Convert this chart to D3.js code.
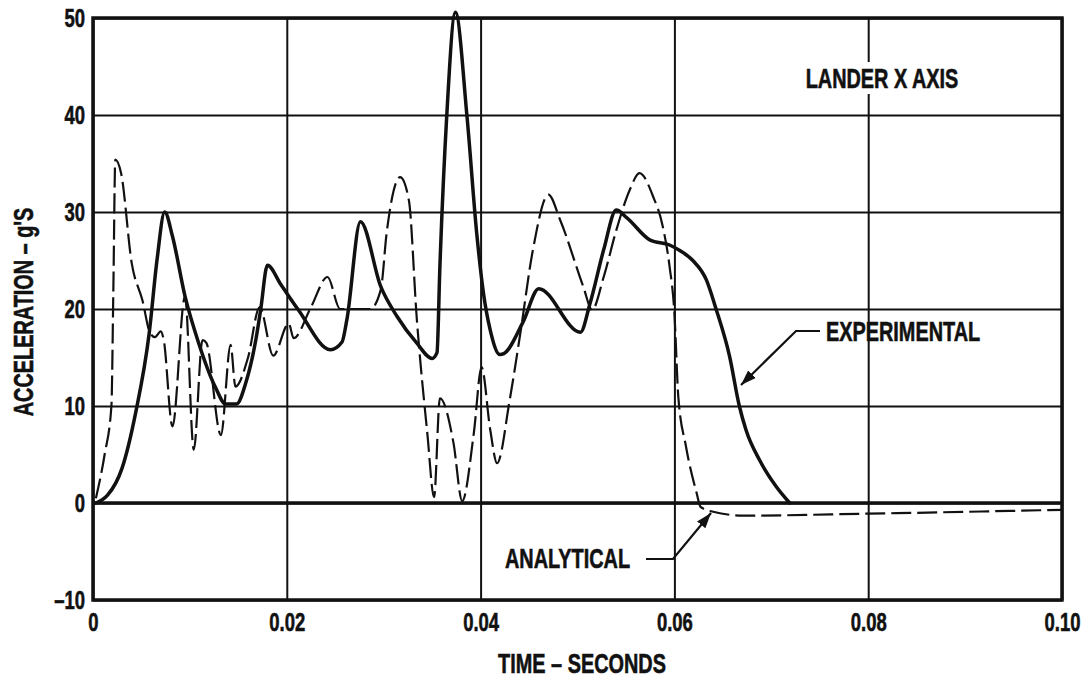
<!DOCTYPE html>
<html>
<head>
<meta charset="utf-8">
<script src="https://cdn.jsdelivr.net/npm/d3@7/dist/d3.min.js"></script>
<style>
  html, body { margin: 0; padding: 0; background: #fff; }
  svg { display: block; }
  .lbl { font-family: "Liberation Sans", Arial, "DejaVu Sans", sans-serif; font-weight: bold; fill: #111; stroke: #111; stroke-width: 0.6; }
</style>
</head>
<body>
<svg id="chart" width="1085" height="682"></svg>
<script>
// Lander X-axis acceleration: time (s) vs acceleration (g's)
const xTicks = [0, 0.02, 0.04, 0.06, 0.08, 0.10];
const xTickLabels = ["0", "0.02", "0.04", "0.06", "0.08", "0.10"];
const yTicks = [-10, 0, 10, 20, 30, 40, 50];
const yTickLabels = ["\u201310", "0", "10", "20", "30", "40", "50"];

// Experimental (solid) trace
const expTime = [0.0003, 0.0015, 0.0030, 0.0044, 0.0058, 0.0066, 0.0074, 0.0082, 0.0095, 0.0109,
  0.0126, 0.0137, 0.0148, 0.0158, 0.0168, 0.0173, 0.0180, 0.0194, 0.0212, 0.0245,
  0.0257, 0.0262, 0.0276, 0.0297, 0.0314, 0.0334, 0.0350, 0.0355, 0.0358, 0.0365,
  0.0374, 0.0386, 0.0396, 0.0403, 0.0410, 0.0420, 0.0424, 0.0444, 0.0460, 0.0503,
  0.0513, 0.0527, 0.0540, 0.0551, 0.0575, 0.0595, 0.0606, 0.0619, 0.0633, 0.0643,
  0.0657, 0.0667, 0.0674, 0.0688, 0.0705, 0.0719];
const expAccel = [0, 0.8, 3.6, 9.3, 17.5, 25, 30, 27.5, 21.3, 16.5,
  12, 10.2, 10.2, 12.5, 16.8, 19.9, 24.5, 22.5, 19.9, 15.8,
  16.6, 18.9, 29, 22.3, 19.2, 16.5, 14.9, 15.5, 24.4, 39.8,
  50.6, 39.8, 27.8, 21.6, 17.8, 15.3, 15.4, 18.7, 22.1, 17.6,
  20.6, 26.1, 30.2, 29.4, 27.1, 26.6, 26.0, 25, 23, 20,
  15.1, 10, 7.5, 4.4, 1.7, 0];

// Analytical (dashed) trace
const anaTime = [0.0003, 0.0012, 0.0019, 0.0021, 0.0023, 0.0029, 0.0040, 0.0051, 0.0059, 0.0064,
  0.0070, 0.0073, 0.0082, 0.0095, 0.0104, 0.0113, 0.0117, 0.0132, 0.0142, 0.0147,
  0.0160, 0.0172, 0.0186, 0.0202, 0.0207, 0.0225, 0.0242, 0.0255, 0.0286, 0.0297,
  0.0303, 0.0317, 0.0326, 0.0334, 0.0345, 0.0352, 0.0358, 0.0372, 0.0381, 0.0393,
  0.0401, 0.0410, 0.0417, 0.0430, 0.0441, 0.0454, 0.0470, 0.0482, 0.0506, 0.0515,
  0.0527, 0.0540, 0.0554, 0.0564, 0.0578, 0.0588, 0.0595, 0.0600, 0.0604, 0.0612,
  0.0623, 0.0627, 0.0640, 0.0671, 0.0800, 0.1000];
const anaAccel = [0.5, 5, 10, 22, 35.4, 34, 24.7, 20.9, 17.5, 17.1,
  17.7, 16.8, 7.9, 21.3, 5.5, 16.8, 16.5, 7, 16.3, 12,
  15, 20.2, 15.2, 18.5, 17, 20.2, 23.3, 20, 20, 22,
  27.8, 33.6, 31.2, 19.2, 7.2, 0.6, 10.8, 6.2, 0.2, 7.2,
  14, 7.5, 4.1, 10.6, 17.5, 26.1, 31.8, 29.2, 22.3, 19.9,
  23.3, 28.1, 32.3, 34, 31.6, 28.5, 24.4, 19.6, 11, 5.8,
  1, -0.4, -0.9, -1.3, -1.1, -0.7];

const svg = d3.select("#chart");
const W = 1085, H = 682;
svg.append("rect").attr("width", W).attr("height", H).attr("fill", "#fff");

// narrow lettering: scale each label horizontally about its anchor
const SQUEEZE = 0.71;
function condense(sel) {
  sel.each(function () {
    const t = d3.select(this);
    const x0 = +t.attr("x") || 0;
    const tr = t.attr("transform") || "";
    t.attr("x", x0 / SQUEEZE).attr("transform", (tr + ` scale(${SQUEEZE},1)`).trim());
  });
}

const x = d3.scaleLinear().domain([0, 0.10]).range([93, 1062]);
const y = d3.scaleLinear().domain([-10, 50]).range([600, 18]);

// grid via axes with full-length ticks
const gx = svg.append("g").attr("transform", `translate(0,${y(-10)})`)
  .call(d3.axisBottom(x).tickValues(xTicks).tickSize(-(y(-10) - y(50))).tickFormat((d, i) => xTickLabels[i]).tickPadding(10));
gx.select(".domain").remove();
gx.selectAll(".tick line").attr("stroke", "#111").attr("stroke-width", 2);
gx.selectAll(".tick text").attr("class", "lbl").attr("font-size", 26).attr("y", 31).attr("dy", null).call(condense);

const gy = svg.append("g").attr("transform", `translate(${x(0)},0)`)
  .call(d3.axisLeft(y).tickValues(yTicks).tickSize(-(x(0.10) - x(0))).tickFormat((d, i) => yTickLabels[i]).tickPadding(8));
gy.select(".domain").remove();
gy.selectAll(".tick line").attr("stroke", "#111").attr("stroke-width", 2);
gy.selectAll(".tick text").attr("class", "lbl").attr("font-size", 26).attr("dy", "0.32em").call(condense);

// heavier zero line and frame
svg.append("line").attr("x1", x(0)).attr("x2", x(0.10)).attr("y1", y(0)).attr("y2", y(0))
  .attr("stroke", "#111").attr("stroke-width", 3.5);
svg.append("rect").attr("x", x(0)).attr("y", y(50)).attr("width", x(0.10) - x(0)).attr("height", y(-10) - y(50))
  .attr("fill", "none").attr("stroke", "#111").attr("stroke-width", 3.5);

// panel caption with white backing
const cap = svg.append("g");
cap.append("rect").attr("x", 800).attr("y", 62).attr("width", 166).attr("height", 32).attr("fill", "#fff");
cap.append("text").attr("class", "lbl").attr("x", 882).attr("y", 88)
  .attr("text-anchor", "middle").attr("font-size", 28).text("LANDER X AXIS").call(condense);

const line = d3.line().x(d => x(d[0])).y(d => y(d[1])).curve(d3.curveMonotoneX);

svg.append("path").datum(anaTime.map((t, i) => [t, anaAccel[i]]))
  .attr("d", line).attr("fill", "none").attr("stroke", "#111")
  .attr("stroke-width", 2.2).attr("stroke-dasharray", "20,6");

svg.append("path").datum(expTime.map((t, i) => [t, expAccel[i]]))
  .attr("d", line).attr("fill", "none").attr("stroke", "#111")
  .attr("stroke-width", 3.5).attr("stroke-linejoin", "round").attr("stroke-linecap", "round");

// callouts with arrowheads
svg.append("defs").append("marker").attr("id", "arr").attr("viewBox", "0 0 10 10")
  .attr("refX", 10).attr("refY", 5).attr("markerWidth", 7).attr("markerHeight", 7)
  .attr("markerUnits", "strokeWidth").attr("orient", "auto")
  .append("path").attr("d", "M0,1.5 L10,5 L0,8.5 Z").attr("fill", "#111");

function callout(pts, label, lx, ly) {
  svg.append("path").attr("d", d3.line()(pts)).attr("fill", "none").attr("stroke", "#111")
    .attr("stroke-width", 2.2).attr("marker-end", "url(#arr)");
  svg.append("text").attr("class", "lbl").attr("x", lx).attr("y", ly)
    .attr("font-size", 28).text(label).call(condense);
}
callout([[820, 331], [796, 331], [741, 385]], "EXPERIMENTAL", 826, 341);
callout([[646, 559], [673, 559], [711, 513]], "ANALYTICAL", 505, 568);

// axis titles
svg.append("text").attr("class", "lbl").attr("x", 582).attr("y", 673)
  .attr("text-anchor", "middle").attr("font-size", 28).text("TIME \u2013 SECONDS").call(condense);
svg.append("text").attr("class", "lbl").attr("transform", "translate(33,312) rotate(-90)")
  .attr("text-anchor", "middle").attr("font-size", 28).text("ACCELERATION \u2013 g'S").call(condense);
</script>
</body>
</html>
